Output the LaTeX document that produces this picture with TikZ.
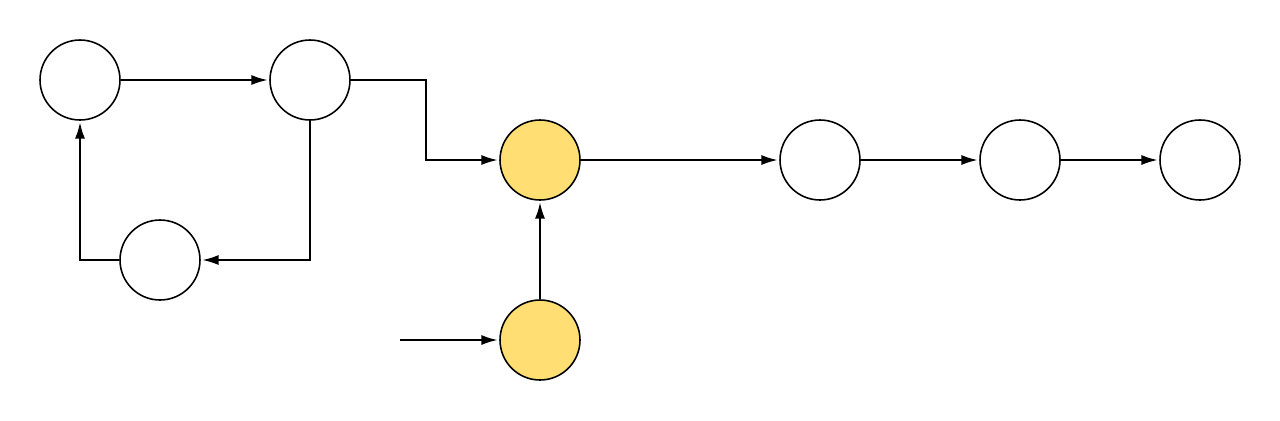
\documentclass[tikz,border=0pt]{standalone}
\usepackage{tikz}
\usetikzlibrary{arrows.meta,positioning,calc}
\definecolor{hot}{HTML}{FFDF73}
\tikzstyle{node}=[circle, draw=black, minimum size=1.6cm, inner sep=0pt, line width=0.9pt, fill=white]
\tikzstyle{hotnode}=[node, fill=hot]
\tikzstyle{edge}=[line width=0.9pt, -{Latex[length=0.32cm,width=0.2cm]}, shorten >=1pt]

\begin{document}
\begin{tikzpicture}[x=0.02cm, y=-0.02cm]
      \useasboundingbox (0,0) rectangle (1280,420);
      %
      \node at (80,80) [node] (a) {};
      \node at (310,80) [node] (b) {};
      \node at (160,260) [node] (c) {};
      \node at (540,160) [hotnode] (d) {};
      \node at (540,340) [hotnode] (e) {};
      \node at (820,160) [node] (f) {};
      \node at (1020,160) [node] (g) {};
      \node at (1200,160) [node] (h) {};
      \coordinate (in) at (400,340);
      %
      \draw [edge] (a) -- (b);
      \draw [edge] (b.east) -- ++(75,0) |- (d.west);
      \draw [edge] (b.south) |- (c.east);
      \draw [edge] (c.west) -| (a.south);
      \draw [edge] (e) -- (d);
      \draw [edge] (in) -- (e);
      \draw [edge] (d) -- (f);
      \draw [edge] (f) -- (g);
      \draw [edge] (g) -- (h);
      %
\end{tikzpicture}
\end{document}
